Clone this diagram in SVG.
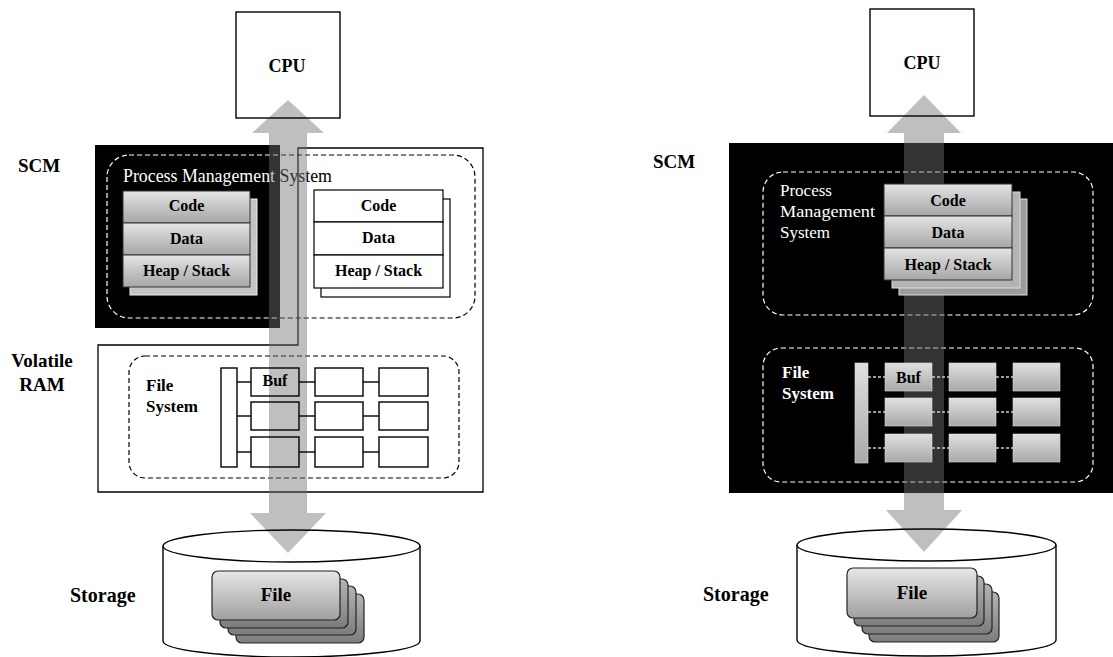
<svg xmlns="http://www.w3.org/2000/svg" width="1113" height="657" viewBox="0 0 1113 657">
  <defs>
    <style>
      .b { font-family: "Liberation Serif", "Times New Roman", serif; font-weight: bold; fill: #000; }
      .r { font-family: "Liberation Serif", "Times New Roman", serif; font-weight: normal; }
      .w { fill: #fff; }
      .mid { text-anchor: middle; }
      .dashK { fill: none; stroke: #000; stroke-width: 1.2; stroke-dasharray: 5 3; }
      .dashW { fill: none; stroke: #fff; stroke-width: 1.2; stroke-dasharray: 5 3; }
      .box { fill: none; stroke: #000; stroke-width: 1.4; }
      .row { fill: url(#gRow); stroke: #333; stroke-width: 1; }
      .rowW { fill: #fff; stroke: #000; stroke-width: 1.2; }
      .gbuf { fill: url(#gBuf); stroke: #ddd; stroke-width: 0.6; }
      .card { fill: url(#gCard); stroke: #222; stroke-width: 1.2; }
      .cardB { fill: url(#gCardB); stroke: #222; stroke-width: 1.2; }
      .flow { fill: #717171; fill-opacity: 0.45; }
      .link { stroke: #000; stroke-width: 1.4; }
      .linkW { stroke: #ccc; stroke-width: 1.4; stroke-dasharray: 3 2; }
    </style>
    <linearGradient id="gRow" x1="0" y1="0" x2="0" y2="1">
      <stop offset="0" stop-color="#e4e4e4"/>
      <stop offset="1" stop-color="#a6a6a6"/>
    </linearGradient>
    <linearGradient id="gBuf" x1="0" y1="0" x2="0" y2="1">
      <stop offset="0" stop-color="#e0e0e0"/>
      <stop offset="1" stop-color="#a8a8a8"/>
    </linearGradient>
    <linearGradient id="gCard" x1="0" y1="0" x2="0" y2="1">
      <stop offset="0" stop-color="#e6e6e6"/>
      <stop offset="1" stop-color="#a0a0a0"/>
    </linearGradient>
    <linearGradient id="gCardB" x1="0" y1="0" x2="0" y2="1">
      <stop offset="0" stop-color="#b4b4b4"/>
      <stop offset="1" stop-color="#7c7c7c"/>
    </linearGradient>
    <clipPath id="clipScmL">
      <rect x="95" y="145" width="185" height="183"/>
    </clipPath>
  </defs>

  <rect width="1113" height="657" fill="#fff"/>

  <!-- ===== Left architecture: SCM + volatile RAM ===== -->
  <g id="scm-left">
    <rect x="95" y="145" width="185" height="183" fill="#000"/>
    <text class="b" x="18" y="172" font-size="19">SCM</text>
  </g>

  <g id="ram-left">
    <path d="M298,148 H483 V492 H98 V345 H298 Z" fill="none" stroke="#000" stroke-width="1.3"/>
    <text class="b mid" x="42" y="367" font-size="19">Volatile</text>
    <text class="b mid" x="42" y="391" font-size="19">RAM</text>
  </g>

  <g id="pms-left">
    <rect class="dashK" x="107" y="155" width="368" height="163" rx="22"/>
    <rect class="dashW" x="107" y="155" width="368" height="163" rx="22" clip-path="url(#clipScmL)"/>
    <text class="r" x="123" y="182" font-size="18" textLength="209" lengthAdjust="spacingAndGlyphs" fill="#000">Process Management System</text>
    <text class="r w" x="123" y="182" font-size="18" textLength="209" lengthAdjust="spacingAndGlyphs" clip-path="url(#clipScmL)">Process Management System</text>
  </g>

  <g id="fs-left">
    <rect class="dashK" x="129" y="356" width="330" height="122" rx="16"/>
    <text class="b" x="146" y="391" font-size="17">File</text>
    <text class="b" x="146" y="412" font-size="17">System</text>
  </g>

  <!-- ===== Right architecture: SCM only ===== -->
  <g id="scm-right">
    <rect x="729" y="143" width="384" height="350" fill="#000"/>
    <text class="b" x="653" y="168" font-size="19">SCM</text>
  </g>

  <g id="pms-right">
    <rect class="dashW" x="763" y="172" width="330" height="143" rx="20"/>
    <text class="r w" x="780" y="196" font-size="17">Process</text>
    <text class="r w" x="780" y="217" font-size="17" textLength="95" lengthAdjust="spacingAndGlyphs">Management</text>
    <text class="r w" x="780" y="238" font-size="17">System</text>
  </g>

  <g id="fs-right">
    <rect class="dashW" x="763" y="348" width="330" height="134" rx="18"/>
    <text class="b w" x="782" y="378" font-size="17">File</text>
    <text class="b w" x="782" y="399" font-size="17">System</text>
  </g>

  <!-- data paths and buffer chains -->
  <g id="connectors">
    <path class="flow" d="M288,100 L324,133 L307,133 L307,513 L326,513 L288,553 L250,513 L269,513 L269,133 L252,133 Z"/>
    <path class="flow" d="M924,95 L961,133 L944,133 L944,510 L962,510 L924,552 L886,510 L904,510 L904,133 L887,133 Z"/>

    <line class="link" x1="237" y1="382" x2="251" y2="382"/>
    <line class="link" x1="299" y1="382" x2="315" y2="382"/>
    <line class="link" x1="363" y1="382" x2="379" y2="382"/>
    <line class="link" x1="237" y1="416" x2="251" y2="416"/>
    <line class="link" x1="299" y1="416" x2="315" y2="416"/>
    <line class="link" x1="363" y1="416" x2="379" y2="416"/>
    <line class="link" x1="237" y1="452" x2="251" y2="452"/>
    <line class="link" x1="299" y1="452" x2="315" y2="452"/>
    <line class="link" x1="363" y1="452" x2="379" y2="452"/>

    <line class="linkW" x1="868" y1="377" x2="885" y2="377"/>
    <line class="linkW" x1="932" y1="377" x2="949" y2="377"/>
    <line class="linkW" x1="996" y1="377" x2="1013" y2="377"/>
    <line class="linkW" x1="868" y1="412" x2="885" y2="412"/>
    <line class="linkW" x1="932" y1="412" x2="949" y2="412"/>
    <line class="linkW" x1="996" y1="412" x2="1013" y2="412"/>
    <line class="linkW" x1="868" y1="448" x2="885" y2="448"/>
    <line class="linkW" x1="932" y1="448" x2="949" y2="448"/>
    <line class="linkW" x1="996" y1="448" x2="1013" y2="448"/>
  </g>

  <!-- CPUs -->
  <g id="cpu-left">
    <rect class="box" x="236" y="12" width="104" height="106"/>
    <text class="b mid" x="287" y="72" font-size="18">CPU</text>
  </g>
  <g id="cpu-right">
    <rect class="box" x="870" y="9" width="104" height="107"/>
    <text class="b mid" x="922" y="69" font-size="18">CPU</text>
  </g>

  <!-- process images: left, in SCM -->
  <g id="proc-left-scm">
    <rect x="130" y="199" width="127" height="96" fill="#c4c4c4" stroke="#eee" stroke-width="1"/>
    <rect class="row" x="123" y="191" width="127" height="32"/>
    <rect class="row" x="123" y="223" width="127" height="32"/>
    <rect class="row" x="123" y="255" width="127" height="32"/>
    <text class="b mid" x="186.5" y="211" font-size="16">Code</text>
    <text class="b mid" x="186.5" y="244" font-size="16">Data</text>
    <text class="b mid" x="186.5" y="276" font-size="16">Heap / Stack</text>
  </g>

  <!-- process images: left, in volatile RAM -->
  <g id="proc-left-ram">
    <rect x="321" y="199" width="129" height="98" fill="#fff" stroke="#000" stroke-width="1.2"/>
    <rect class="rowW" x="314" y="190" width="129" height="32"/>
    <rect class="rowW" x="314" y="222" width="129" height="33"/>
    <rect class="rowW" x="314" y="255" width="129" height="33"/>
    <text class="b mid" x="378.5" y="211" font-size="16">Code</text>
    <text class="b mid" x="378.5" y="243" font-size="16">Data</text>
    <text class="b mid" x="378.5" y="276" font-size="16">Heap / Stack</text>
  </g>

  <!-- page cache: left -->
  <g id="buf-left">
    <rect class="box" x="221" y="368" width="16" height="99" stroke-width="1.2"/>
    <rect class="box" x="251" y="368" width="48" height="28" stroke-width="1.2"/>
    <rect class="box" x="315" y="368" width="48" height="28" stroke-width="1.2"/>
    <rect class="box" x="379" y="368" width="49" height="28" stroke-width="1.2"/>
    <rect class="box" x="251" y="402" width="48" height="28" stroke-width="1.2"/>
    <rect class="box" x="315" y="402" width="48" height="28" stroke-width="1.2"/>
    <rect class="box" x="379" y="402" width="49" height="28" stroke-width="1.2"/>
    <rect class="box" x="251" y="437" width="48" height="30" stroke-width="1.2"/>
    <rect class="box" x="315" y="437" width="48" height="30" stroke-width="1.2"/>
    <rect class="box" x="379" y="437" width="49" height="30" stroke-width="1.2"/>
    <text class="b mid" x="275" y="386" font-size="16">Buf</text>
  </g>

  <!-- process images: right, in SCM -->
  <g id="proc-right-scm">
    <rect x="899" y="199" width="128" height="96" fill="#9c9c9c" stroke="#ddd" stroke-width="1"/>
    <rect x="892" y="192" width="128" height="96" fill="#b4b4b4" stroke="#ddd" stroke-width="1"/>
    <rect class="row" x="884" y="184" width="128" height="32"/>
    <rect class="row" x="884" y="216" width="128" height="32"/>
    <rect class="row" x="884" y="248" width="128" height="32"/>
    <text class="b mid" x="948" y="206" font-size="16">Code</text>
    <text class="b mid" x="948" y="238" font-size="16">Data</text>
    <text class="b mid" x="948" y="270" font-size="16">Heap / Stack</text>
  </g>

  <!-- page cache: right -->
  <g id="buf-right">
    <rect class="gbuf" x="855" y="363" width="13" height="100"/>
    <rect class="gbuf" x="885" y="363" width="47" height="28"/>
    <rect class="gbuf" x="949" y="363" width="47" height="28"/>
    <rect class="gbuf" x="1013" y="363" width="47" height="28"/>
    <rect class="gbuf" x="885" y="398" width="47" height="28"/>
    <rect class="gbuf" x="949" y="398" width="47" height="28"/>
    <rect class="gbuf" x="1013" y="398" width="47" height="28"/>
    <rect class="gbuf" x="885" y="434" width="47" height="28"/>
    <rect class="gbuf" x="949" y="434" width="47" height="28"/>
    <rect class="gbuf" x="1013" y="434" width="47" height="28"/>
    <text class="b mid" x="908.5" y="383" font-size="16">Buf</text>
  </g>

  <!-- storage: left -->
  <g id="storage-left">
    <path d="M163,546 V641 A128.5,16 0 0 0 420,641 V546" fill="none" stroke="#000" stroke-width="1.4"/>
    <ellipse cx="291.5" cy="546" rx="128.5" ry="16" fill="none" stroke="#000" stroke-width="1.4"/>
    <rect class="cardB" x="236" y="594" width="128" height="49" rx="6"/>
    <rect class="cardB" x="228" y="586" width="128" height="49" rx="6"/>
    <rect class="cardB" x="220" y="579" width="128" height="49" rx="6"/>
    <rect class="card" x="212" y="571" width="128" height="49" rx="6"/>
    <text class="b mid" x="276" y="601" font-size="19">File</text>
    <text class="b" x="70" y="602" font-size="20">Storage</text>
  </g>

  <!-- storage: right -->
  <g id="storage-right">
    <path d="M797,545 V640 A129.5,16 0 0 0 1056,640 V545" fill="none" stroke="#000" stroke-width="1.4"/>
    <ellipse cx="926.5" cy="545" rx="129.5" ry="16" fill="none" stroke="#000" stroke-width="1.4"/>
    <rect class="cardB" x="869" y="592" width="130" height="50" rx="6"/>
    <rect class="cardB" x="862" y="584" width="130" height="50" rx="6"/>
    <rect class="cardB" x="854" y="576" width="130" height="50" rx="6"/>
    <rect class="card" x="847" y="568" width="130" height="50" rx="6"/>
    <text class="b mid" x="912" y="599" font-size="19">File</text>
    <text class="b" x="703" y="601" font-size="20">Storage</text>
  </g>
</svg>
